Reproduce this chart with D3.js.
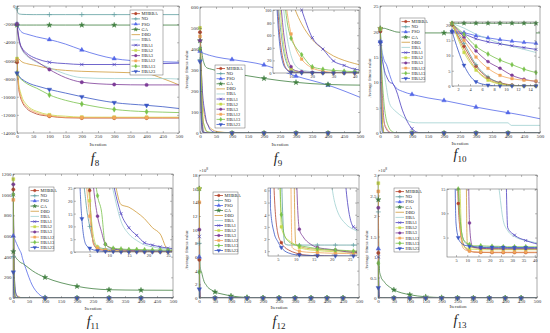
<!DOCTYPE html>
<html>
<head>
<meta charset="utf-8">
<script src="https://cdn.jsdelivr.net/npm/d3@7"></script>
<style>
body { margin: 0; background: #fff; }
svg { display: block; font-family: "Liberation Serif", "Times New Roman", serif; }
</style>
</head>
<body>
<svg id="fig" width="550" height="333"></svg>
<script>
// algorithms, in legend order
var algos = ["MHBBA", "NO", "PSO", "GA", "DBO", "HBA", "HBA1", "HBA2", "HBA3", "HBA12", "HBA13", "HBA23"];

// f8
var f8Iter = [0, 2, 5, 10, 15, 30, 50, 60, 100, 150, 200, 300, 400, 450, 500];
var f8Values = [
    [-6200, -7600, -9000, -10000, -10500, -11300, -11750, -11900, -12150, -12320, -12350, -12350, -12350, -12350, -12350],
    [-300, -700, -850, -900, -920, -940, -950, -950, -950, -950, -950, -950, -950, -950, -950],
    [-2000, -2150, -2400, -2700, -2900, -3100, -3300, -3400, -3700, -4200, -4850, -5800, -6100, -6150, -6200],
    [-2100, -2100, -2100, -2100, -2100, -2100, -2100, -2100, -2100, -2100, -2100, -2100, -2100, -2100, -2100],
    [-5600, -5700, -5800, -6000, -6150, -6350, -6500, -6570, -6900, -7100, -7200, -7300, -7450, -8000, -8700],
    [-2000, -2800, -3600, -4300, -4800, -5500, -6000, -6200, -6800, -7500, -7900, -8000, -8000, -8000, -8050],
    [-2000, -2600, -3300, -4200, -4600, -5200, -5650, -5800, -6200, -6350, -6450, -6450, -6400, -6350, -6300],
    [-5800, -7000, -8500, -9400, -10000, -10900, -11450, -11600, -12000, -12150, -12250, -12260, -12260, -12260, -12260],
    [-2000, -2700, -3500, -4300, -4700, -5400, -5900, -6100, -7000, -7900, -8400, -8650, -8700, -8700, -8700],
    [-6000, -7300, -8800, -9700, -10300, -11100, -11600, -11750, -12100, -12280, -12300, -12300, -12300, -12300, -12300],
    [-7400, -7550, -7700, -8000, -8150, -8550, -8900, -9050, -9800, -10400, -10800, -11400, -11650, -11700, -11750],
    [-7400, -7500, -7650, -7900, -8050, -8400, -8700, -8800, -9200, -9600, -10000, -10650, -10950, -11100, -11300]
];

// f9
var f9Iter = [0, 2, 4, 6, 8, 10, 12, 15, 20, 25, 30, 35, 40, 50, 100, 200, 300, 400, 500];
var f9Values = [
    [480, 250, 90, 25, 6, 2, 1, 0.5, 0, 0, 0, 0, 0, 0, 0, 0, 0, 0, 0],
    [350, 230, 110, 45, 15, 5, 2, 1, 0.5, 0, 0, 0, 0, 0, 0, 0, 0, 0, 0],
    [390, 385, 383, 382, 381, 380, 379, 377, 375, 372, 370, 368, 366, 362, 350, 324, 271, 228, 170],
    [440, 420, 400, 380, 360, 345, 335, 322, 312, 308, 306, 304, 302, 298, 285, 260, 241, 231, 228],
    [510, 420, 320, 230, 160, 120, 100, 78, 53, 38, 27, 20, 15, 8, 1, 0, 0, 0, 0],
    [420, 330, 210, 120, 60, 28, 12, 5, 2, 1, 0.5, 0, 0, 0, 0, 0, 0, 0, 0],
    [400, 360, 300, 240, 190, 155, 130, 100, 56, 38, 19, 12, 6, 3, 0, 0, 0, 0, 0],
    [500, 330, 150, 60, 20, 7, 3, 1, 0.5, 0, 0, 0, 0, 0, 0, 0, 0, 0, 0],
    [440, 320, 170, 80, 30, 10, 4, 2, 1, 0.5, 0, 0, 0, 0, 0, 0, 0, 0, 0],
    [460, 360, 250, 160, 100, 62, 40, 22, 8, 3, 1, 0.5, 0, 0, 0, 0, 0, 0, 0],
    [400, 330, 240, 150, 85, 55, 42, 29, 10, 6, 4, 3, 2, 1, 0, 0, 0, 0, 0],
    [340, 200, 70, 18, 5, 1, 0, 0, 0, 0, 0, 0, 0, 0, 0, 0, 0, 0, 0]
];

// f10
var f10Iter = [1, 3, 5, 7, 9, 11, 13, 15, 20, 25, 30, 40, 50, 70, 100, 120, 150, 200, 300, 400, 410, 500];
var f10Values = [
    [20, 13, 6.5, 2.7, 1.1, 0.3, 0, 0, 0, 0, 0, 0, 0, 0, 0, 0, 0, 0, 0, 0, 0, 0],
    [20.5, 14, 7, 3, 1, 0.2, 0, 0, 0, 0, 0, 0, 0, 0, 0, 0, 0, 0, 0, 0, 0, 0],
    [18, 17.5, 16.5, 15.8, 15.2, 14.7, 14.3, 14, 13.5, 12.5, 11.5, 9.8, 8.9, 8.2, 7.6, 7.3, 6.9, 6.4, 5.1, 4.0, 3.9, 2.8],
    [20.6, 20.6, 20.6, 20.6, 20.6, 20.6, 20.6, 20.6, 20.5, 20.4, 20.3, 20.1, 19.9, 19.8, 19.7, 19.7, 19.7, 19.7, 19.7, 19.7, 19.7, 19.7],
    [20.5, 12, 5.5, 2.2, 0.8, 0.2, 0, 0, 0, 0, 0, 0, 0, 0, 0, 0, 0, 0, 0, 0, 0, 0],
    [20.5, 19, 17, 15.5, 14, 13, 12, 11, 9, 7, 5.8, 4.8, 4.2, 3.2, 2.1, 2.0, 2.0, 2.0, 2.0, 2.0, 1.5, 1.5],
    [17.5, 17, 15.5, 14.5, 13.8, 13.2, 12.6, 12, 11.2, 10.5, 10, 9.7, 8.5, 4.5, 0.85, 0.1, 0, 0, 0, 0, 0, 0],
    [20.5, 11, 5.2, 1.9, 0.6, 0.1, 0, 0, 0, 0, 0, 0, 0, 0, 0, 0, 0, 0, 0, 0, 0, 0],
    [20.5, 16, 11.5, 8, 5.8, 3.5, 2.2, 1.5, 0.8, 0.3, 0.1, 0, 0, 0, 0, 0, 0, 0, 0, 0, 0, 0],
    [20.5, 15, 9.5, 5.8, 3.5, 2.4, 1.9, 1.6, 1.0, 0.5, 0.2, 0, 0, 0, 0, 0, 0, 0, 0, 0, 0, 0],
    [20.5, 17, 13, 10.5, 8.5, 7, 5.5, 4.4, 2.5, 1.5, 0.8, 0.2, 0, 0, 0, 0, 0, 0, 0, 0, 0, 0],
    [17.9, 6.8, 1.4, 0.3, 0, 0, 0, 0, 0, 0, 0, 0, 0, 0, 0, 0, 0, 0, 0, 0, 0, 0]
];

// f11
var f11Iter = [1, 2, 3, 4, 5, 6, 7, 8, 9, 11, 13, 15, 17, 19, 21, 23, 25, 30, 40, 60, 80, 100, 200, 300, 400, 500];
var f11Values = [
    [1050, 500, 200, 80, 24, 3, 1.2, 0.8, 0.6, 0.4, 0.3, 0.2, 0.1, 0, 0, 0, 0, 0, 0, 0, 0, 0, 0, 0, 0, 0],
    [400, 120, 40, 20, 10, 4, 2, 1.5, 1.2, 1, 0.8, 0.7, 0.6, 0.5, 0.5, 0.4, 0.4, 0.3, 0.2, 0.1, 0, 0, 0, 0, 0, 0],
    [600, 595, 588, 580, 572, 565, 558, 550, 542, 528, 514, 500, 487, 474, 462, 450, 438, 380, 285, 125, 40, 5, 0, 0, 0, 0],
    [450, 440, 430, 420, 412, 405, 400, 395, 390, 382, 375, 368, 362, 356, 350, 345, 340, 335, 312, 265, 228, 200, 113, 80, 76, 75],
    [1100, 700, 400, 250, 150, 100, 70, 50, 40, 30, 18.5, 17.5, 15.5, 13, 9.5, 7, 0.8, 0.2, 0, 0, 0, 0, 0, 0, 0, 0],
    [1000, 650, 380, 230, 150, 100, 70, 50, 38, 24, 12, 7, 4.5, 2.8, 2.0, 1.5, 1.2, 0.7, 0.3, 0, 0, 0, 0, 0, 0, 0],
    [1000, 700, 400, 250, 160, 110, 80, 60, 45, 27, 15, 9.5, 6.5, 3.6, 2.7, 2.0, 1.5, 1.0, 0.4, 0.1, 0, 0, 0, 0, 0, 0],
    [1150, 420, 100, 40, 20, 6, 2, 1.2, 0.8, 0.5, 0.4, 0.3, 0.3, 0.2, 0.2, 0.1, 0.1, 0, 0, 0, 0, 0, 0, 0, 0, 0],
    [1100, 600, 250, 100, 45, 25, 14, 8, 3, 1.2, 0.8, 0.6, 0.5, 0.4, 0.3, 0.3, 0.2, 0.1, 0, 0, 0, 0, 0, 0, 0, 0],
    [950, 300, 60, 30, 14, 3.5, 1.5, 1, 0.7, 0.5, 0.4, 0.3, 0.3, 0.2, 0.2, 0.2, 0.1, 0, 0, 0, 0, 0, 0, 0, 0, 0],
    [1000, 500, 250, 120, 60, 35, 22, 16, 3, 1.5, 1.2, 1, 1, 0.9, 0.8, 0.8, 0.7, 0.5, 0.2, 0, 0, 0, 0, 0, 0, 0],
    [250, 60, 13, 3, 1.5, 0.8, 0.5, 0.3, 0.2, 0.1, 0, 0, 0, 0, 0, 0, 0, 0, 0, 0, 0, 0, 0, 0, 0, 0]
];

// f12 (raw values, main axis shown in 1e8)
var f12Iter = [1, 2, 3, 4, 5, 6, 7, 8, 9, 10, 11, 12, 14, 16, 18, 21, 24, 26, 30, 40, 50, 75, 100, 150, 200, 250, 300, 350, 400, 450, 500];
var f12Values = [
    [5.6e8, 1e6, 80, 6, 2.5, 1.7, 1.3, 1.1, 0.95, 0.85, 0.75, 0.7, 0.65, 0.62, 0.6, 0.58, 0.56, 0.55, 0.54, 0.52, 0.5, 0.45, 0.4, 0.3, 0.2, 0.1, 0.05, 0.02, 0.01, 0, 0],
    [8e8, 1e7, 1e5, 1e3, 50, 8, 1.6, 1.5, 1.5, 1.5, 1.5, 1.5, 1.5, 1.5, 1.5, 1.5, 1.5, 1.5, 1.5, 1.5, 1.5, 1.5, 1.5, 1.5, 1.5, 1.5, 1.5, 1.5, 1.5, 1.5, 1.5],
    [6e8, 2e8, 8e7, 3e7, 1e7, 4e6, 1.5e6, 6e5, 2.5e5, 1e5, 5e4, 3e4, 1e4, 5e3, 2e3, 800, 300, 150, 60, 20, 10, 6, 4, 3, 2.5, 2.2, 2, 1.9, 1.8, 1.7, 1.7],
    [16e8, 9e8, 5.5e8, 4.5e8, 4.2e8, 4e8, 3.9e8, 3.8e8, 3.6e8, 3.4e8, 3.2e8, 3e8, 2.7e8, 2.4e8, 2.2e8, 2e8, 1.8e8, 1.65e8, 1.45e8, 1.15e8, 0.88e8, 0.55e8, 0.3e8, 0.08e8, 0.02e8, 5e5, 1e5, 2e4, 5e3, 1e3, 500],
    [15e8, 2e8, 3e7, 3e6, 3e5, 3e4, 3e3, 300, 30, 1.6, 1.4, 1.3, 1.2, 1.15, 1.1, 1.05, 1.0, 1.0, 0.98, 0.95, 0.9, 0.85, 0.8, 0.7, 0.6, 0.5, 0.4, 0.3, 0.25, 0.2, 0.2],
    [8e8, 2e8, 5e7, 1e7, 2e6, 5e5, 1e5, 3e4, 1e4, 3e3, 1e3, 400, 100, 40, 15, 4.8, 3.2, 2.8, 2.4, 2.0, 1.8, 1.6, 1.5, 1.4, 1.3, 1.2, 1.1, 1.0, 1.0, 0.9, 0.9],
    [9e8, 3e8, 1e8, 3e7, 1e7, 3e6, 1e6, 3e5, 1e5, 5e4, 2e4, 1e4, 3e3, 1e3, 400, 100, 6, 3.0, 2.4, 2.0, 1.8, 1.6, 1.5, 1.4, 1.3, 1.2, 1.1, 1.0, 1.0, 0.9, 0.9],
    [16e8, 3e7, 1e4, 200, 30, 3, 2.2, 1.9, 1.7, 1.5, 1.3, 1.2, 1.1, 1.05, 1.0, 0.95, 0.92, 0.9, 0.88, 0.85, 0.8, 0.7, 0.6, 0.5, 0.4, 0.3, 0.25, 0.2, 0.15, 0.1, 0.1],
    [10e8, 1e8, 1e7, 1e6, 1e5, 1e4, 1e3, 200, 50, 10, 2.8, 2.2, 1.6, 1.3, 1.2, 1.1, 0.95, 0.9, 0.85, 0.8, 0.75, 0.7, 0.6, 0.5, 0.4, 0.3, 0.25, 0.2, 0.15, 0.1, 0.1],
    [14e8, 1e8, 1e7, 1e6, 1e5, 1e4, 1e3, 50, 1.3, 1.1, 1.0, 0.95, 0.9, 0.88, 0.85, 0.82, 0.8, 0.8, 0.78, 0.75, 0.7, 0.6, 0.5, 0.4, 0.3, 0.2, 0.15, 0.1, 0.1, 0.05, 0.05],
    [3.8e8, 1e7, 1e4, 100, 20, 4, 2.2, 1.8, 1.6, 1.5, 1.45, 1.4, 1.3, 1.2, 1.15, 1.1, 1.05, 1.0, 1.0, 0.95, 0.9, 0.8, 0.7, 0.6, 0.5, 0.4, 0.3, 0.25, 0.2, 0.15, 0.15],
    [1.3e8, 5e3, 4.5, 2.5, 1.8, 1.3, 1.0, 0.85, 0.75, 0.7, 0.68, 0.66, 0.64, 0.62, 0.61, 0.6, 0.6, 0.6, 0.6, 0.58, 0.55, 0.5, 0.45, 0.4, 0.35, 0.3, 0.25, 0.2, 0.15, 0.1, 0.1]
];

// f13 (raw values, main axis shown in 1e8)
var f13Iter = [1, 2, 3, 4, 5, 6, 7, 8, 9, 10, 11, 12, 13, 16, 21, 24, 26, 28, 31, 36, 40, 50, 100, 150, 200, 250, 300, 350, 400, 450, 500];
var f13Values = [
    [1.1e8, 1e6, 1e4, 300, 40, 12, 6, 4, 3, 2.5, 2.3, 2.1, 2.0, 1.95, 1.9, 1.9, 1.9, 1.9, 1.9, 1.9, 1.9, 1.85, 1.8, 1.7, 1.6, 1.5, 1.4, 1.3, 1.2, 1.1, 1.0],
    [2.1e8, 1e7, 1e5, 1e3, 100, 20, 8, 5, 4, 3.6, 3.4, 3.2, 3.1, 3.0, 2.9, 2.9, 2.85, 2.85, 2.8, 2.8, 2.8, 2.75, 2.6, 2.5, 2.4, 2.3, 2.2, 2.1, 2.0, 1.9, 1.8],
    [1.2e8, 5e7, 2e7, 8e6, 3e6, 1e6, 4e5, 1.5e5, 6e4, 3e4, 1.5e4, 8e3, 5e3, 1.5e3, 400, 200, 120, 80, 50, 30, 20, 12, 6, 4.5, 4, 3.8, 3.6, 3.4, 3.2, 3.0, 2.9],
    [2.4e8, 1.5e8, 1.1e8, 0.85e8, 0.64e8, 0.6e8, 0.57e8, 0.55e8, 0.53e8, 0.5e8, 0.48e8, 0.46e8, 0.45e8, 0.43e8, 0.38e8, 0.35e8, 0.33e8, 0.32e8, 0.3e8, 0.27e8, 0.25e8, 0.2e8, 0.08e8, 0.03e8, 0.01e8, 3e5, 1e5, 3e4, 1e4, 3e3, 1e3],
    [2.0e8, 3e7, 3e6, 3e5, 5e4, 1e4, 2e3, 400, 80, 4, 3.2, 3.0, 2.9, 2.8, 2.7, 2.7, 2.65, 2.6, 2.6, 2.6, 2.6, 2.55, 2.4, 2.3, 2.2, 2.1, 2.0, 1.9, 1.8, 1.7, 1.6],
    [1.5e8, 3e7, 5e6, 1e6, 2e5, 5e4, 1.5e4, 5e3, 2e3, 800, 300, 150, 80, 50, 25, 15.5, 8.5, 6.4, 5.2, 4.4, 4.0, 3.5, 3.0, 2.8, 2.6, 2.5, 2.4, 2.3, 2.2, 2.1, 2.0],
    [1.0e8, 4e7, 1.5e7, 6e6, 2e6, 8e5, 3e5, 1e5, 4e4, 1.5e4, 6e3, 3e3, 1.5e3, 500, 200, 120, 60, 7, 5.5, 4.4, 3.8, 3.2, 2.8, 2.6, 2.4, 2.3, 2.2, 2.1, 2.0, 1.9, 1.8],
    [2.8e8, 1e7, 1e5, 3e3, 200, 40, 12, 3.5, 3.0, 2.8, 2.7, 2.6, 2.6, 2.5, 2.5, 2.5, 2.5, 2.5, 2.5, 2.5, 2.5, 2.45, 2.3, 2.2, 2.1, 2.0, 1.9, 1.8, 1.7, 1.6, 1.5],
    [2.2e8, 3e7, 3e6, 3e5, 5e4, 1e4, 3e3, 1e3, 300, 60, 8, 3.5, 3.0, 2.8, 2.7, 2.7, 2.7, 2.7, 2.7, 2.7, 2.7, 2.65, 2.5, 2.4, 2.3, 2.2, 2.1, 2.0, 1.9, 1.8, 1.7],
    [2.6e8, 5e6, 5e4, 2e3, 100, 18, 6, 3, 2.5, 2.3, 2.2, 2.1, 2.1, 2.0, 2.0, 2.0, 2.0, 2.0, 2.0, 2.0, 2.0, 1.95, 1.9, 1.8, 1.7, 1.6, 1.5, 1.4, 1.3, 1.2, 1.1],
    [0.85e8, 3e6, 5e4, 1e3, 60, 15, 8, 5, 4.2, 3.8, 3.6, 3.4, 3.3, 3.3, 3.2, 3.2, 3.1, 3.1, 3.1, 3.1, 3.1, 3.0, 2.9, 2.8, 2.7, 2.6, 2.5, 2.4, 2.3, 2.2, 2.1],
    [0.25e8, 1e5, 1e3, 60, 8, 5, 4, 3.6, 3.4, 3.3, 3.2, 3.1, 3.1, 3.0, 3.0, 3.0, 3.0, 2.95, 2.95, 2.95, 2.95, 2.9, 2.8, 2.7, 2.6, 2.5, 2.4, 2.3, 2.2, 2.1, 2.0]
];

var colors = ["#b5442c", "#5f9ea0", "#5468e8", "#3f7f3f", "#cf9a3a", "#9fd0d0",
    "#4b3fbf", "#c7d94a", "#7d3c98", "#f2a65a", "#79c24b", "#3957c4"];
var shapes = ["circle", "plus", "triUp", "star", "none", "none",
    "cross", "square", "circle", "square", "diamond", "triDown"];

var svg = d3.select("#fig");
var defs = svg.append("defs");
var clipId = 0;

function marker(g, shape, cx, cy, col, s) {
    if (shape == "none") return;
    var sym = {
        circle: d3.symbolCircle, square: d3.symbolSquare, triUp: d3.symbolTriangle,
        triDown: d3.symbolTriangle, diamond: d3.symbolDiamond, star: d3.symbolStar,
        plus: d3.symbolPlus, cross: d3.symbolTimes
    }[shape];
    var open = (shape == "plus" || shape == "cross");
    g.append("path")
        .attr("d", d3.symbol().type(sym).size(s)())
        .attr("transform", "translate(" + cx + "," + cy + ")" + (shape == "triDown" ? " rotate(180)" : ""))
        .attr("fill", open ? "none" : col)
        .attr("stroke", col)
        .attr("stroke-width", open ? 0.7 : 0.4);
}

// one axes box (main plot or inset)
function plot(g, iter, vals, o) {
    var x0 = o.box[0], y0 = o.box[1], x1 = o.box[2], y1 = o.box[3];
    var x = d3.scaleLinear().domain(o.xDom).range([x0, x1]);
    var y = d3.scaleLinear().domain(o.yDom).range([y1, y0]);
    var id = "clip" + (clipId++);
    defs.append("clipPath").attr("id", id).append("rect")
        .attr("x", x0).attr("y", y0).attr("width", x1 - x0).attr("height", y1 - y0);

    g.append("rect").attr("x", x0).attr("y", y0).attr("width", x1 - x0).attr("height", y1 - y0)
        .attr("fill", "#fff");

    var cap = o.yDom[1] + (o.yDom[1] - o.yDom[0]) * 40;
    var line = d3.line()
        .x(function(d, i) { return x(iter[i]); })
        .y(function(d) { return y(Math.min(d, cap)); })
        .curve(d3.curveMonotoneX);

    var lines = g.append("g").attr("clip-path", "url(#" + id + ")");
    var mk = g.append("g");
    vals.forEach(function(v, k) {
        lines.append("path").attr("d", line(v))
            .attr("fill", "none").attr("stroke", colors[k]).attr("stroke-width", 0.8);
        iter.forEach(function(it, i) {
            if (o.marks.indexOf(it) < 0) return;
            if (it < o.xDom[0] || it > o.xDom[1]) return;
            if (v[i] > o.yDom[1] || v[i] < o.yDom[0]) return;
            marker(mk, shapes[k], x(it), y(v[i]), colors[k], o.ms);
        });
    });

    var fmt = o.fmt || function(d) { return String(d); };
    var ax = g.append("g");
    ax.append("g").attr("transform", "translate(0," + y1 + ")")
        .call(d3.axisBottom(x).tickValues(o.xTicks).tickSizeInner(-2).tickSizeOuter(0).tickPadding(1.5)
            .tickFormat(function(d) { return String(d); }));
    ax.append("g").attr("transform", "translate(0," + y0 + ")")
        .call(d3.axisTop(x).tickValues(o.xTicks).tickSizeInner(-2).tickSizeOuter(0).tickFormat(""));
    ax.append("g").attr("transform", "translate(" + x0 + ",0)")
        .call(d3.axisLeft(y).tickValues(o.yTicks).tickSizeInner(-2).tickSizeOuter(0).tickPadding(1.5).tickFormat(fmt));
    ax.append("g").attr("transform", "translate(" + x1 + ",0)")
        .call(d3.axisRight(y).tickValues(o.yTicks).tickSizeInner(-2).tickSizeOuter(0).tickFormat(""));
    ax.selectAll(".domain").remove();
    ax.selectAll("g").attr("font-size", null).attr("font-family", null);
    ax.selectAll("line").attr("stroke", "#555").attr("stroke-width", 0.4);
    ax.selectAll("text").attr("fill", "#333").attr("font-size", o.fs);
    g.append("rect").attr("x", x0).attr("y", y0).attr("width", x1 - x0).attr("height", y1 - y0)
        .attr("fill", "none").attr("stroke", "#555").attr("stroke-width", 0.5);
}

function legend(g, bx, by, bw, bh) {
    g.append("rect").attr("x", bx).attr("y", by).attr("width", bw).attr("height", bh)
        .attr("fill", "#fff").attr("stroke", "#444").attr("stroke-width", 0.4);
    var rh = (bh - 2) / algos.length;
    algos.forEach(function(a, k) {
        var cy = by + 1 + rh * (k + 0.5);
        g.append("line").attr("x1", bx + 1.5).attr("x2", bx + 10).attr("y1", cy).attr("y2", cy)
            .attr("stroke", colors[k]).attr("stroke-width", 0.8);
        marker(g, shapes[k], bx + 5.75, cy, colors[k], 5);
        g.append("text").attr("x", bx + 11.5).attr("y", cy + 1.5).attr("font-size", 4.4)
            .attr("fill", "#222").text(a);
    });
}

function title(g, cx, by, n) {
    var t = g.append("text").attr("x", cx).attr("y", by).attr("text-anchor", "middle")
        .attr("font-size", 14).attr("fill", "#222");
    t.append("tspan").attr("font-style", "italic").text("f");
    t.append("tspan").attr("font-size", 9).attr("dy", 3).text(n);
}

function xlab(g, cx, cy) {
    g.append("text").attr("x", cx).attr("y", cy).attr("text-anchor", "middle")
        .attr("font-size", 5).attr("fill", "#333").text("Iteration");
}

function ylab(g, cx, cy) {
    g.append("text").attr("transform", "translate(" + cx + "," + cy + ") rotate(-90)")
        .attr("text-anchor", "middle").attr("font-size", 4.6).attr("fill", "#333").text("Average fitness value");
}

function expo(g, x, y) {
    var t = g.append("text").attr("x", x).attr("y", y).attr("font-size", 4.6).attr("fill", "#333");
    t.append("tspan").text("\u00d710");
    t.append("tspan").attr("dy", -2).attr("font-size", 3.6).text("8");
}

var ticks500 = d3.range(0, 501, 50);
var e8 = function(d) { return String(+(d / 1e8).toFixed(1)); };

// f8
var g8 = svg.append("g");
plot(g8, f8Iter, f8Values, { box: [17, 6, 179, 133], xDom: [0, 500], yDom: [-14000, 0],
    xTicks: ticks500, yTicks: d3.range(-14000, 1, 2000), marks: [0, 100, 200, 300, 400], fs: 5, ms: 9 });
legend(g8, 130, 10, 33, 65);
xlab(g8, 98, 146);
title(g8, 95, 163, "8");

// f9
var g9 = svg.append("g");
plot(g9, f9Iter, f9Values, { box: [200, 7, 360, 133], xDom: [0, 500], yDom: [0, 600],
    xTicks: ticks500, yTicks: d3.range(0, 601, 100), marks: [0, 100, 200, 300, 400], fs: 5, ms: 9 });
legend(g9, 215, 65, 30, 63);
plot(g9, f9Iter, f9Values, { box: [273, 10, 359, 73], xDom: [1.5, 42], yDom: [0, 100],
    xTicks: [10, 20, 30, 40], yTicks: d3.range(0, 101, 20), marks: [10, 15, 20, 25, 30, 35, 40], fs: 4.4, ms: 7 });
xlab(g9, 280, 146);
ylab(g9, 188, 70);
title(g9, 278, 163, "9");

// f10
var g10 = svg.append("g");
plot(g10, f10Iter, f10Values, { box: [380, 6, 540, 133], xDom: [0, 500], yDom: [0, 25],
    xTicks: ticks500, yTicks: d3.range(0, 26, 5), marks: [1, 100, 200, 300, 400], fs: 5, ms: 9 });
legend(g10, 400, 18, 25, 64);
plot(g10, f10Iter, f10Values, { box: [452, 22, 536, 86], xDom: [1, 15], yDom: [0, 21],
    xTicks: d3.range(2, 15, 2), yTicks: d3.range(0, 21, 5), marks: [1, 3, 5, 7, 9, 11, 13, 15], fs: 4.4, ms: 7 });
xlab(g10, 460, 145);
ylab(g10, 371, 78);
title(g10, 460, 159, "10");

// f11
var g11 = svg.append("g");
plot(g11, f11Iter, f11Values, { box: [13, 174, 173, 298], xDom: [0, 500], yDom: [0, 1200],
    xTicks: ticks500, yTicks: d3.range(0, 1201, 200), marks: [1, 100, 200, 300, 400], fs: 5, ms: 9 });
legend(g11, 29, 187, 25, 64);
plot(g11, f11Iter, f11Values, { box: [74, 188, 172, 252], xDom: [1, 26], yDom: [0, 25],
    xTicks: d3.range(5, 26, 5), yTicks: d3.range(0, 26, 5), marks: [3, 5, 7, 9, 11, 13, 15, 17, 19, 21, 23, 25], fs: 4.4, ms: 7 });
xlab(g11, 93, 310);
title(g11, 93, 326, "11");

// f12
var g12 = svg.append("g");
plot(g12, f12Iter, f12Values, { box: [199, 175, 359, 298], xDom: [0, 500], yDom: [0, 18e8],
    xTicks: ticks500, yTicks: d3.range(0, 19e8, 2e8), fmt: e8, marks: [1, 50, 100, 150, 200, 250, 300, 350, 400, 450], fs: 5, ms: 9 });
legend(g12, 213, 192, 25, 62);
plot(g12, f12Iter, f12Values, { box: [268, 188, 357, 256], xDom: [2.3, 27], yDom: [0.6, 6.2],
    xTicks: d3.range(5, 26, 5), yTicks: [1, 2, 3, 4, 5, 6], marks: [6, 11, 16, 21, 26], fs: 4.4, ms: 7 });
expo(g12, 199, 172);
xlab(g12, 279, 309);
ylab(g12, 188, 250);
title(g12, 279, 326, "12");

// f13
var g13 = svg.append("g");
plot(g13, f13Iter, f13Values, { box: [378, 175, 537, 298], xDom: [0, 500], yDom: [0, 3e8],
    xTicks: ticks500, yTicks: d3.range(0, 3.01e8, 0.5e8), fmt: e8, marks: [1, 50, 100, 150, 200, 250, 300, 350, 400, 450], fs: 5, ms: 9 });
legend(g13, 394, 188, 25, 64);
plot(g13, f13Iter, f13Values, { box: [447, 189, 537, 257], xDom: [1, 41], yDom: [1, 15],
    xTicks: d3.range(5, 41, 5), yTicks: [5, 10, 15], marks: [6, 11, 16, 21, 26, 31, 36], fs: 4.4, ms: 7 });
expo(g13, 378, 172);
xlab(g13, 458, 308);
ylab(g13, 368, 250);
title(g13, 460, 325, "13");
</script>
</body>
</html>
